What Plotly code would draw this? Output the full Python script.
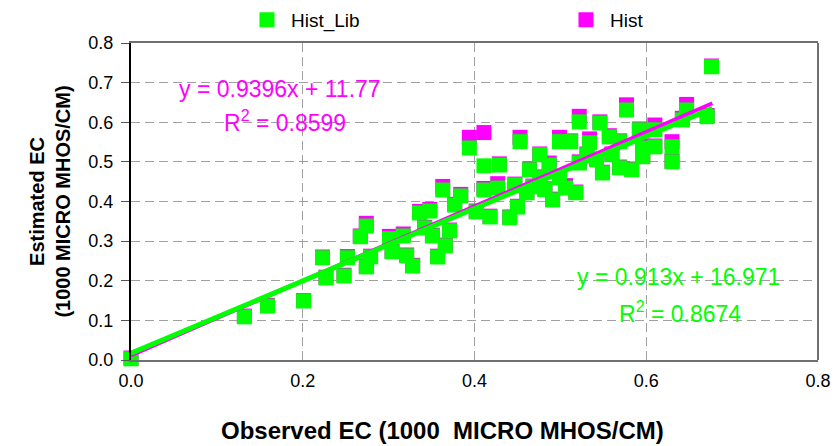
import plotly.graph_objects as go

# Observed EC (1000 micro mhos/cm)
observed = [0.000, 0.132, 0.159, 0.201, 0.223, 0.227, 0.248, 0.252, 0.267, 0.274,
            0.274, 0.279, 0.301, 0.304, 0.317, 0.321, 0.328, 0.336, 0.348, 0.351,
            0.357, 0.363, 0.371, 0.366, 0.384, 0.394, 0.402, 0.411, 0.411, 0.418,
            0.427, 0.429, 0.441, 0.450, 0.453, 0.461, 0.468, 0.487, 0.491, 0.499,
            0.506, 0.512, 0.518, 0.522, 0.522, 0.534, 0.546, 0.549, 0.557, 0.569,
            0.569, 0.577, 0.583, 0.592, 0.596, 0.596, 0.610, 0.630, 0.630, 0.642,
            0.647, 0.671, 0.676, 0.377, 0.464, 0.476, 0.482, 0.447, 0.531, 0.542,
            0.560, 0.499, 0.476, 0.610, 0.342]

# Estimated EC, Hist_Lib run
hist_lib = [0.003, 0.109, 0.136, 0.149, 0.258, 0.207, 0.212, 0.258, 0.311, 0.338,
            0.235, 0.260, 0.306, 0.273, 0.313, 0.263, 0.237, 0.371, 0.376, 0.313,
            0.260, 0.429, 0.326, 0.288, 0.414, 0.535, 0.374, 0.490, 0.429, 0.361,
            0.434, 0.492, 0.359, 0.386, 0.551, 0.422, 0.437, 0.492, 0.404, 0.551,
            0.434, 0.551, 0.422, 0.601, 0.497, 0.548, 0.598, 0.472, 0.563, 0.551,
            0.485, 0.631, 0.480, 0.581, 0.535, 0.513, 0.581, 0.538, 0.500, 0.606,
            0.631, 0.614, 0.740, 0.391, 0.480, 0.460, 0.430, 0.442, 0.518, 0.505,
            0.518, 0.460, 0.518, 0.538, 0.333]

# Estimated EC, Hist run
hist = [0.005, 0.111, 0.138, 0.150, 0.260, 0.209, 0.214, 0.261, 0.313, 0.345,
        0.237, 0.262, 0.312, 0.275, 0.318, 0.265, 0.239, 0.375, 0.380, 0.315,
        0.262, 0.438, 0.328, 0.290, 0.418, 0.562, 0.376, 0.574, 0.433, 0.363,
        0.445, 0.495, 0.361, 0.388, 0.562, 0.424, 0.439, 0.497, 0.406, 0.562,
        0.440, 0.553, 0.424, 0.615, 0.500, 0.558, 0.601, 0.474, 0.566, 0.553,
        0.487, 0.644, 0.482, 0.583, 0.540, 0.515, 0.593, 0.551, 0.502, 0.610,
        0.645, 0.617, 0.742, 0.393, 0.482, 0.462, 0.432, 0.444, 0.520, 0.507,
        0.520, 0.462, 0.520, 0.540, 0.335]

# Trend line fits (intercept expressed in 1000 micro mhos/cm)
fit_hist = {"slope": 0.9396, "intercept": 0.01177}
fit_lib = {"slope": 0.913, "intercept": 0.016971}
fit_x = [0.0, 0.677]

eq_hist = ["y = 0.9396x + 11.77", "R<sup>2</sup> = 0.8599"]
eq_lib = ["y = 0.913x + 16.971", "R<sup>2</sup> = 0.8674"]
x_title = "Observed EC (1000  MICRO MHOS/CM)"
y_title = "Estimated EC<br>(1000 MICRO MHOS/CM)"

GREEN = "#00FF00"
MAGENTA = "#FF00FF"
FONT = "Liberation Sans, Arial, sans-serif"

fig = go.Figure()
fig.add_trace(go.Scatter(x=observed, y=hist, mode="markers", name="Hist",
                         legendrank=2, cliponaxis=False,
                         marker=dict(symbol="square", size=15, color=MAGENTA,
                                     line=dict(width=0))))
fig.add_trace(go.Scatter(x=observed, y=hist_lib, mode="markers", name="Hist_Lib",
                         legendrank=1, cliponaxis=False,
                         marker=dict(symbol="square", size=15, color=GREEN,
                                     line=dict(width=0))))
fig.add_trace(go.Scatter(x=fit_x,
                         y=[fit_hist["slope"] * v + fit_hist["intercept"] for v in fit_x],
                         mode="lines", line=dict(color=MAGENTA, width=4),
                         showlegend=False, hoverinfo="skip"))
fig.add_trace(go.Scatter(x=fit_x,
                         y=[fit_lib["slope"] * v + fit_lib["intercept"] for v in fit_x],
                         mode="lines", line=dict(color=GREEN, width=5),
                         showlegend=False, hoverinfo="skip"))

annos = [
    dict(x=0.173, y=0.684, text=eq_hist[0], color=MAGENTA),
    dict(x=0.179, y=0.604, text=eq_hist[1], color=MAGENTA),
    dict(x=0.637, y=0.210, text=eq_lib[0], color=GREEN),
    dict(x=0.639, y=0.121, text=eq_lib[1], color=GREEN),
]
for a in annos:
    fig.add_annotation(x=a["x"], y=a["y"], xref="x", yref="y", text=a["text"],
                       showarrow=False, font=dict(family=FONT, size=23, color=a["color"]))

# x-axis title (offset left of the plot centre, as in the original)
fig.add_annotation(x=0.454, y=-0.221, xref="paper", yref="paper",
                   xanchor="center", yanchor="middle", showarrow=False,
                   text="<b>" + x_title + "</b>",
                   font=dict(family=FONT, size=24, color="black"))

GRID = dict(showgrid=True, gridcolor="#a0a0a0", griddash="9px,5px", gridwidth=1)

# page body has an 8px default margin, so the figure is sized to fit the window
fig.update_layout(
    width=832, height=438,
    margin=dict(l=123, r=22, t=35, b=86, autoexpand=False),
    paper_bgcolor="white", plot_bgcolor="white",
    font=dict(family=FONT, size=17, color="black"),
    showlegend=True,
    legend=dict(orientation="h", x=0.163, y=1.073, xanchor="left", yanchor="middle",
                entrywidth=266, entrywidthmode="pixels", itemwidth=38,
                font=dict(family=FONT, size=19, color="black"),
                bgcolor="rgba(0,0,0,0)"),
    xaxis=dict(range=[0, 0.8], dtick=0.2, tick0=0, tickformat=".1f", **GRID,
               zeroline=False, showline=True, linecolor="#707070", linewidth=2,
               mirror=True, ticks="outside", ticklen=3, tickcolor="rgba(0,0,0,0)",
               tickfont=dict(family=FONT, size=18)),
    yaxis=dict(range=[0, 0.8], dtick=0.1, tick0=0, tickformat=".1f", **GRID,
               zeroline=False, showline=True, linecolor="black", linewidth=2,
               ticks="outside", ticklen=8, tickcolor="#555",
               ticklabelstandoff=4,
               tickfont=dict(family=FONT, size=18),
               title=dict(text="<b>" + y_title + "</b>",
                          font=dict(family=FONT, size=20), standoff=12)),
    shapes=[dict(type="line", xref="paper", yref="paper", x0=1, x1=1, y0=0, y1=1,
                 line=dict(color="#707070", width=2))],
)

fig.write_html("out.html")
